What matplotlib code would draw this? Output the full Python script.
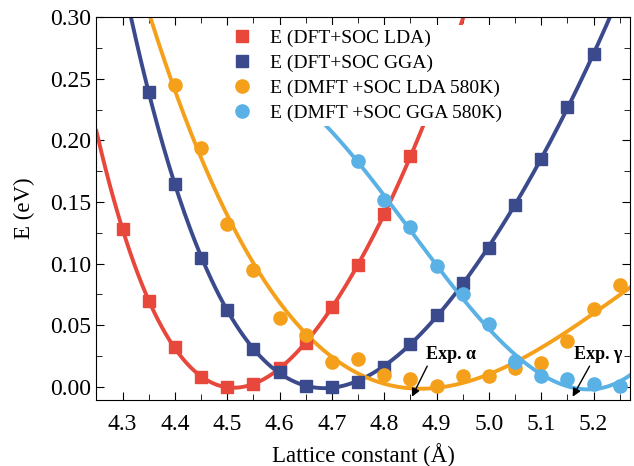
import numpy as np
import matplotlib
matplotlib.use("Agg")
import matplotlib.pyplot as plt
from matplotlib.ticker import MultipleLocator

plt.rcParams['font.family'] = ['Liberation Serif', 'DejaVu Serif']
plt.rcParams['mathtext.fontset'] = 'stix'

# data
x_dft_lda = [4.30, 4.35, 4.40, 4.45, 4.50, 4.55, 4.60, 4.65, 4.70, 4.75, 4.80, 4.85]
e_dft_lda = [0.128, 0.070, 0.032, 0.008, 0.000, 0.002, 0.015, 0.036, 0.065, 0.099, 0.140, 0.187]

x_dft_gga = [4.35, 4.40, 4.45, 4.50, 4.55, 4.60, 4.65, 4.70, 4.75, 4.80, 4.85,
             4.90, 4.95, 5.00, 5.05, 5.10, 5.15, 5.20]
e_dft_gga = [0.239, 0.165, 0.105, 0.062, 0.031, 0.012, 0.001, 0.000, 0.004, 0.016, 0.035,
             0.058, 0.084, 0.113, 0.148, 0.185, 0.227, 0.270]

x_dmft_lda = [4.40, 4.45, 4.50, 4.55, 4.60, 4.65, 4.70, 4.75, 4.80, 4.85, 4.90,
              4.95, 5.00, 5.05, 5.10, 5.15, 5.20, 5.25]
e_dmft_lda = [0.245, 0.194, 0.132, 0.095, 0.056, 0.042, 0.020, 0.023, 0.010, 0.006, 0.001,
              0.009, 0.009, 0.015, 0.019, 0.037, 0.063, 0.083]

x_dmft_gga = [4.75, 4.80, 4.85, 4.90, 4.95, 5.00, 5.05, 5.05, 5.10, 5.15, 5.20, 5.25]
e_dmft_gga = [0.183, 0.152, 0.130, 0.098, 0.075, 0.051, 0.021, 0.020, 0.009, 0.006, 0.002, 0.001]

c_red = '#e8483c'
c_navy = '#3b4a8c'
c_orange = '#f5a01a'
c_blue = '#5ab1e5'

fig, ax = plt.subplots(figsize=(6.34, 4.66), dpi=100)

series = [
    (x_dft_lda, e_dft_lda, c_red, 's', 'E (DFT+SOC LDA)', 4, 4.25),
    (x_dft_gga, e_dft_gga, c_navy, 's', 'E (DFT+SOC GGA)', 4, 4.25),
    (x_dmft_lda, e_dmft_lda, c_orange, 'o', 'E (DMFT +SOC LDA 580K)', 3, 4.25),
    (x_dmft_gga, e_dmft_gga, c_blue, 'o', 'E (DMFT +SOC GGA 580K)', 3, 4.62),
]

for x, e, c, m, lab, deg, x0 in series:
    # fitted curve through the points
    xs = np.linspace(x0, 5.27, 400)
    p = np.polyfit(x, e, deg)
    ax.plot(xs, np.polyval(p, xs), color=c, lw=2.8, zorder=2)
    ax.plot(x, e, ls='none', marker=m, color=c, ms=8.5 if m == 's' else 9.5,
            label=lab, zorder=3)

ax.set_xlim(4.25, 5.27)
ax.set_ylim(-0.0105, 0.30)
ax.xaxis.set_major_locator(MultipleLocator(0.1))
ax.xaxis.set_minor_locator(MultipleLocator(0.05))
ax.yaxis.set_major_locator(MultipleLocator(0.05))
ax.yaxis.set_minor_locator(MultipleLocator(0.025))
ax.yaxis.set_major_formatter(matplotlib.ticker.FormatStrFormatter('%.2f'))
ax.tick_params(which='both', direction='in', top=True, right=True, labelsize=17)
ax.tick_params(which='major', length=6)
ax.tick_params(which='minor', length=4)
ax.tick_params(axis='x', which='major', pad=10)

ax.set_xlabel('Lattice constant (Å)', fontsize=16.5, labelpad=6)
ax.set_ylabel('E (eV)', fontsize=16.5, labelpad=11)

leg = ax.legend(loc='upper left', bbox_to_anchor=(0.23, 1.004), frameon=True,
                fontsize=14, handlelength=1.0, handletextpad=0.9,
                labelspacing=0.38, borderpad=0.2)
leg.get_frame().set_edgecolor('none')
leg.get_frame().set_alpha(1.0)

arrow = dict(arrowstyle='-|>', color='black', lw=1.0, mutation_scale=12)
ax.annotate('Exp. α', xy=(4.853, -0.008), xytext=(4.88, 0.026),
            fontsize=13, fontweight='bold', ha='left', va='center',
            arrowprops=dict(arrow, shrinkA=0, shrinkB=0,
                            relpos=(0.05, 0.0)))
ax.annotate('Exp. γ', xy=(5.16, -0.008), xytext=(5.163, 0.026),
            fontsize=13, fontweight='bold', ha='left', va='center',
            arrowprops=dict(arrow, shrinkA=0, shrinkB=0,
                            relpos=(0.35, 0.0)))

fig.subplots_adjust(left=0.152, right=0.994, top=0.963, bottom=0.142)
fig.savefig('out.png', dpi=100)
